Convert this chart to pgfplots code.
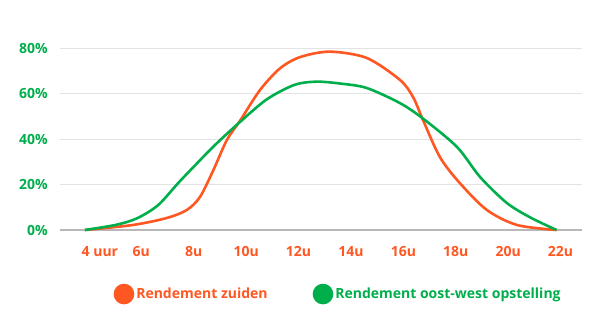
\documentclass[border=0pt]{standalone}
\usepackage{pgfplots}
\pgfplotsset{compat=1.18}
\usepackage{fontspec}
\setmainfont{Open Sans}
\definecolor{zuid}{HTML}{FF5722}
\definecolor{ow}{HTML}{00AE4B}
\definecolor{gridc}{HTML}{E3E3E3}
\definecolor{basec}{HTML}{B8B8B8}
\begin{document}
\begin{tikzpicture}[x=1pt,y=1pt]
\useasboundingbox (-60,-83) rectangle (540,230);
\begin{axis}[
  scale only axis,
  width=522pt, height=182pt,
  xmin=3.05, xmax=22.97,
  ymin=0, ymax=80,
  clip=false,
  axis line style={draw=none},
  tick style={draw=none},
  ymajorgrids,
  grid style={gridc, line width=1pt},
  major tick length=0pt,
  font=\fontsize{14}{16}\selectfont\bfseries,
  ytick={0,20,40,60,80},
  yticklabels={0\%,20\%,40\%,60\%,80\%},
  yticklabel style={ow, anchor=east, inner sep=0pt, xshift=-12pt},
  xtick={4,6,8,10,12,14,16,18,20,22},
  xticklabels={\hspace*{22pt}4 uur,6u,8u,10u,12u,14u,16u,18u,20u,22u},
  xticklabel style={zuid, anchor=north, inner sep=0pt, yshift=-16pt, xshift=4pt},
  legend columns=2,
  legend style={draw=none, fill=none, at={(0.0967,-0.352)}, anchor=west,
    font=\fontsize{14}{16}\selectfont\bfseries,
    /tikz/every even column/.append style={column sep=43pt},
    legend cell align=left},
  legend image code/.code={\fill (9pt,0pt) circle (9pt);},
]
\draw[basec, line width=1.2pt] (axis cs:3.05,0) -- (axis cs:22.97,0);
\addplot[zuid, line width=2.6pt, smooth, tension=0.5] coordinates {
(4,0) (5.83,2.2) (7.13,5.3) (7.89,8.8) (8.39,14.5) (8.89,26) (9.42,39.6)
(9.92,48) (10.68,61.5) (11.44,71) (12.21,76) (13.35,78.4) (14.76,75.6)
(16.02,66) (16.52,58.5) (16.9,48.4) (17.55,32) (18.31,20.6) (19.34,8.8)
(20.49,2.2) (22,0)};
\addlegendentry{\textcolor{zuid}{Rendement zuiden}}
\addplot[ow, line width=2.6pt, smooth, tension=0.5] coordinates {
(4,0) (5.2,2.3) (6.0,5.2) (6.8,11) (7.63,21.5) (8.89,36.5) (9.92,47.5) (10.95,57.5)
(12.0,63.8) (12.85,65.2) (13.8,64.3) (14.76,62.4) (16.02,55.8) (16.9,49) (18.2,36.5)
(19.08,23.3) (20.1,11.9) (21.0,5.5) (22,0)};
\addlegendentry{\textcolor{ow}{Rendement oost-west opstelling}}
\end{axis}
\end{tikzpicture}
\end{document}
